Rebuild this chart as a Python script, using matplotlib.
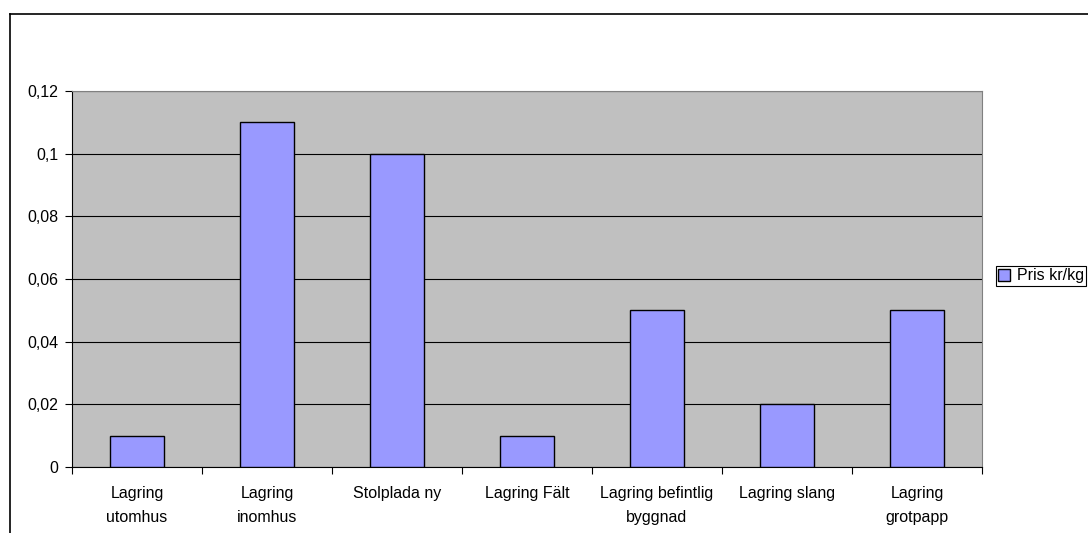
import matplotlib.pyplot as plt
from matplotlib.lines import Line2D
from matplotlib.ticker import FuncFormatter, MultipleLocator

plt.rcParams['font.family'] = ['Liberation Sans', 'DejaVu Sans']

categories = ['Lagring\nutomhus', 'Lagring\ninomhus', 'Stolplada ny', 'Lagring Fält',
              'Lagring befintlig\nbyggnad', 'Lagring slang', 'Lagring\ngrotpapp']
pris = [0.01, 0.11, 0.10, 0.01, 0.05, 0.02, 0.05]

fs = 11.5

fig = plt.figure(figsize=(10.88, 5.33), dpi=100)
ax = fig.add_axes([72 / 1088, 1 - 467 / 533, 910 / 1088, 376 / 533])

x = range(len(categories))
ax.set_axisbelow(True)
ax.bar(x, pris, width=0.41, color='#9999FF', edgecolor='black', linewidth=1.0,
       label='Pris kr/kg', zorder=3)

ax.set_facecolor('#C0C0C0')
ax.set_xlim(-0.5, len(categories) - 0.5)
ax.set_ylim(0, 0.12)
ax.yaxis.set_major_locator(MultipleLocator(0.02))
ax.yaxis.set_major_formatter(FuncFormatter(lambda v, p: f'{v:g}'.replace('.', ',')))
ax.grid(axis='y', color='black', linewidth=0.8, zorder=1)

# ticks sit between the categories, labels centred under each bar
ax.set_xticks([i - 0.5 for i in range(len(categories) + 1)])
ax.set_xticklabels([])
ax.set_xticks(list(x), minor=True)
ax.set_xticklabels(categories, minor=True, fontsize=fs, linespacing=1.75)
ax.tick_params(axis='x', which='minor', length=0, pad=14)
ax.tick_params(axis='x', which='major', length=5, width=0.8, direction='out')
ax.tick_params(axis='y', length=5, width=0.8, labelsize=fs, pad=5)

for side in ['top', 'right']:
    ax.spines[side].set_color('#808080')
ax.spines['left'].set_color('black')
ax.spines['bottom'].set_color('black')

# outer chart border
fig.add_artist(Line2D([10 / 1088, 10 / 1088], [0, 1 - 14 / 533], transform=fig.transFigure,
                      color='black', linewidth=1.2))
fig.add_artist(Line2D([10 / 1088, 1], [1 - 14 / 533, 1 - 14 / 533], transform=fig.transFigure,
                      color='black', linewidth=1.2))

leg = fig.legend(loc='upper left', bbox_to_anchor=(996 / 1088, 1 - 266 / 533),
                 fontsize=fs, frameon=True, fancybox=False, edgecolor='black',
                 framealpha=1, borderpad=0.15, handlelength=0.75, handleheight=0.75,
                 handletextpad=0.4, borderaxespad=0)
leg.get_frame().set_linewidth(0.8)

fig.savefig('out.png', dpi=100)
